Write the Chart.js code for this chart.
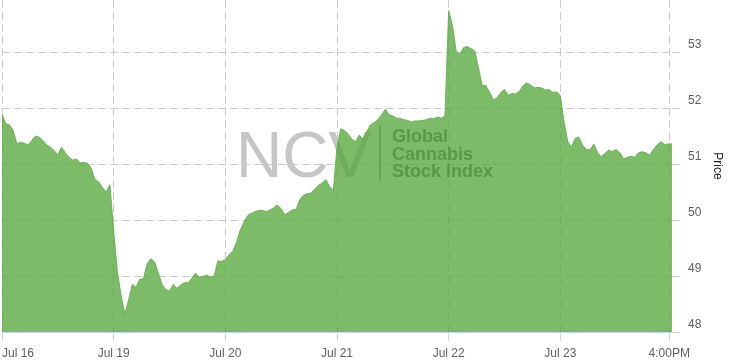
<!DOCTYPE html>
<html>
<head>
<meta charset="utf-8">
<script src="https://cdn.jsdelivr.net/npm/chart.js@4/dist/chart.umd.min.js"></script>
<style>
    html, body { margin: 0; padding: 0; background: #fff; }
    .chart-box { width: 729px; height: 364px; }
</style>
</head>
<body>
<div class="chart-box">
    <canvas id="myChart"></canvas>
</div>
<script>
// one array per trading session, 30 evenly spaced quotes each
const jul16 = [51.89, 51.72, 51.70, 51.60, 51.36, 51.39, 51.37, 51.34, 51.42, 51.50, 51.48, 51.42, 51.34, 51.30, 51.24, 51.16, 51.30, 51.20, 51.12, 51.07, 51.09, 51.02, 51.03, 51.01, 50.92, 50.72, 50.68, 50.58, 50.50, 50.63];
const jul19 = [49.80, 49.08, 48.65, 48.32, 48.57, 48.85, 48.80, 48.94, 48.95, 49.22, 49.31, 49.25, 49.05, 48.85, 48.76, 48.73, 48.85, 48.78, 48.84, 48.88, 48.88, 48.96, 49.05, 48.98, 48.99, 49.02, 48.98, 49.00, 49.27, 49.26];
const jul20 = [49.29, 49.38, 49.44, 49.60, 49.82, 49.96, 50.08, 50.12, 50.15, 50.17, 50.17, 50.15, 50.18, 50.22, 50.27, 50.20, 50.09, 50.14, 50.18, 50.19, 50.36, 50.44, 50.47, 50.48, 50.55, 50.62, 50.66, 50.72, 50.60, 50.52];
const jul21 = [51.30, 51.63, 51.60, 51.54, 51.44, 51.40, 51.52, 51.44, 51.58, 51.70, 51.74, 51.79, 51.88, 51.98, 51.88, 51.86, 51.82, 51.82, 51.79, 51.78, 51.75, 51.77, 51.77, 51.78, 51.79, 51.82, 51.81, 51.84, 51.82, 51.86];
const jul22 = [53.74, 53.48, 53.02, 52.96, 53.08, 53.10, 53.06, 53.02, 52.72, 52.40, 52.40, 52.28, 52.15, 52.18, 52.28, 52.33, 52.23, 52.26, 52.25, 52.30, 52.40, 52.45, 52.41, 52.36, 52.37, 52.36, 52.32, 52.33, 52.28, 52.29];
const jul23 = [52.22, 51.75, 51.40, 51.30, 51.46, 51.48, 51.33, 51.26, 51.25, 51.36, 51.20, 51.13, 51.19, 51.25, 51.22, 51.26, 51.20, 51.09, 51.12, 51.14, 51.12, 51.20, 51.22, 51.20, 51.16, 51.26, 51.34, 51.40, 51.35, 51.36];
const closePrice = 51.36;

const sessions = [jul16, jul19, jul20, jul21, jul22, jul23];
const tickValues = [0, 1, 2, 3, 4, 5, 5.975, 6];
const tickLabels = ["Jul 16", "Jul 19", "Jul 20", "Jul 21", "Jul 22", "Jul 23", "4:00PM", ""];
const priceTicks = [48, 49, 50, 51, 52, 53];

const FONT = "'Liberation Sans', Arial, sans-serif";
const GRID = "#cdcdcd";
const AXIS = "#ccd6eb";

// setup
const points = [];
sessions.forEach((day, d) => {
    day.forEach((v, i) => points.push({ x: d + i / day.length, y: v }));
});
points.push({ x: sessions.length, y: closePrice });

const watermark = {
    id: "watermark",
    beforeDatasetsDraw(chart) {
        const ctx = chart.ctx;
        ctx.save();
        ctx.fillStyle = "#c6c6c6";
        ctx.font = "64px " + FONT;
        ctx.textBaseline = "alphabetic";
        ctx.fillText("NCV", 236, 177);
        ctx.strokeStyle = "#8a8a8a";
        ctx.lineWidth = 1.5;
        ctx.beginPath();
        ctx.moveTo(380, 125);
        ctx.lineTo(380, 180);
        ctx.stroke();
        ctx.fillStyle = "#767676";
        ctx.font = "bold 18px " + FONT;
        ctx.fillText("Global", 392, 142);
        ctx.fillText("Cannabis", 392, 159.5);
        ctx.fillText("Stock Index", 392, 177);
        ctx.restore();
    }
};

const hideLast = (c, color) => c.index === tickValues.length - 1 ? "rgba(0,0,0,0)" : color;

// no automatic padding round the plot: it fills the box edge to edge
const noPadding = s => {
    s.paddingLeft = 0;
    s.paddingRight = 0;
    s.paddingTop = 0;
    s.paddingBottom = 0;
};

// config
const config = {
    type: "line",
    data: {
        datasets: [
            {
                label: "Price",
                data: points,
                borderColor: "rgba(100,172,76,0.9)",
                backgroundColor: "rgba(80,165,55,0.75)",
                borderWidth: 1,
                fill: "start",
                tension: 0,
                pointRadius: 0
            }
        ]
    },
    options: {
        responsive: true,
        maintainAspectRatio: false,
        animation: false,
        layout: {
            padding: { left: 2, right: 0, top: 0, bottom: 0 }
        },
        plugins: {
            legend: { display: false },
            tooltip: { enabled: false }
        },
        scales: {
            x: {
                type: "linear",
                min: 0,
                max: 6,
                afterBuildTicks: s => { s.ticks = tickValues.map(v => ({ value: v })); },
                afterFit: s => { s.height = 32; noPadding(s); },
                border: { display: true, color: AXIS, width: 1, dash: [8, 4] },
                grid: {
                    color: c => hideLast(c, GRID),
                    tickColor: c => hideLast(c, AXIS),
                    tickBorderDash: [],
                    tickLength: 9,
                    drawTicks: true
                },
                ticks: {
                    align: "inner",
                    maxRotation: 0,
                    autoSkip: false,
                    padding: 5,
                    color: "#606060",
                    font: { family: FONT, size: 12 },
                    callback: (v, i) => tickLabels[i]
                }
            },
            y: {
                position: "right",
                min: 48,
                max: 53.93,
                afterBuildTicks: s => { s.ticks = priceTicks.map(v => ({ value: v })); },
                afterFit: s => { s.width = 57; noPadding(s); },
                border: { display: false, dash: [8, 4] },
                grid: {
                    color: GRID,
                    drawTicks: true,
                    tickLength: 8,
                    tickColor: GRID,
                    tickBorderDash: [8, 4]
                },
                ticks: {
                    padding: 8,
                    labelOffset: -7,
                    color: "#606060",
                    font: { family: FONT, size: 12 }
                },
                title: {
                    display: true,
                    text: "Price",
                    color: "#222",
                    padding: { top: 4, bottom: 4 },
                    font: { family: FONT, size: 12 }
                }
            }
        }
    },
    plugins: [watermark]
};

// render
window.myChart = new Chart(document.getElementById("myChart"), config);
</script>
</body>
</html>
